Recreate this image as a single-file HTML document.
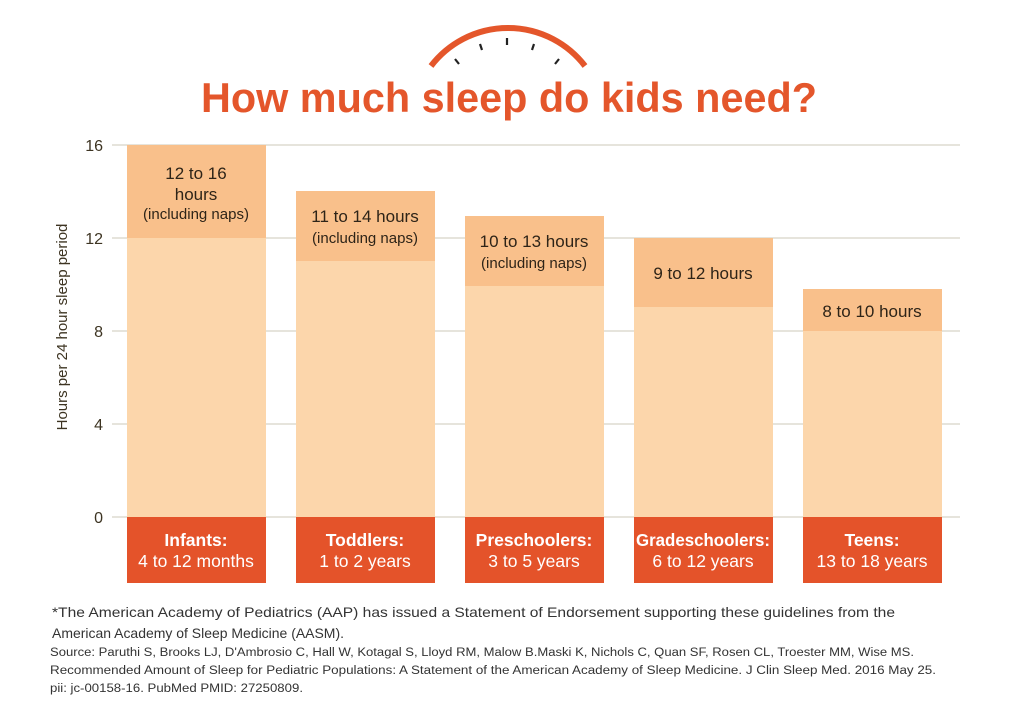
<!DOCTYPE html>
<html><head><meta charset="utf-8"><style>
html,body{margin:0;padding:0;background:#fff;}
svg{display:block;font-family:"Liberation Sans",sans-serif;}
</style></head><body>
<svg width="1010" height="720" viewBox="0 0 1010 720" xmlns="http://www.w3.org/2000/svg">
<rect width="1010" height="720" fill="#fff"/>
<!-- arc -->
<path d="M431,66 A97,97 0 0 1 585,66" fill="none" stroke="#e4562b" stroke-width="6"/>
<g stroke="#222" stroke-width="2.2">
<line x1="455" y1="59" x2="459" y2="64"/>
<line x1="480" y1="44" x2="482" y2="50"/>
<line x1="507" y1="38" x2="507" y2="45"/>
<line x1="534" y1="44" x2="532" y2="50"/>
<line x1="559" y1="59" x2="555" y2="64"/>
</g>
<text x="509" y="112" text-anchor="middle" font-size="42" font-weight="bold" fill="#e4562b" textLength="616" lengthAdjust="spacingAndGlyphs">How much sleep do kids need?</text>
<!-- grid -->
<g stroke="#d8d4c8" stroke-width="1.2">
<line x1="112" y1="145" x2="960" y2="145"/><line x1="112" y1="238" x2="960" y2="238"/>
<line x1="112" y1="331" x2="960" y2="331"/><line x1="112" y1="424" x2="960" y2="424"/>
<line x1="112" y1="517" x2="960" y2="517"/>
</g>
<g font-size="16" fill="#3d3422" text-anchor="end">
<text x="103" y="151">16</text><text x="103" y="244">12</text><text x="103" y="337">8</text>
<text x="103" y="430">4</text><text x="103" y="523">0</text>
</g>
<text transform="translate(67,327) rotate(-90)" text-anchor="middle" font-size="15" fill="#3d3422">Hours per 24 hour sleep period</text>
<!-- bars -->
<g>
<rect x="127" y="145" width="139" height="93" fill="#f9c08b"/><rect x="127" y="238" width="139" height="279" fill="#fcd6ab"/>
<rect x="296" y="191" width="139" height="70" fill="#f9c08b"/><rect x="296" y="261" width="139" height="256" fill="#fcd6ab"/>
<rect x="465" y="216" width="139" height="70" fill="#f9c08b"/><rect x="465" y="286" width="139" height="231" fill="#fcd6ab"/>
<rect x="634" y="238" width="139" height="69" fill="#f9c08b"/><rect x="634" y="307" width="139" height="210" fill="#fcd6ab"/>
<rect x="803" y="289" width="139" height="42" fill="#f9c08b"/><rect x="803" y="331" width="139" height="186" fill="#fcd6ab"/>
</g>
<g fill="#2e2418" text-anchor="middle">
<text x="196" y="179" font-size="17">12 to 16</text>
<text x="196" y="200" font-size="17">hours</text>
<text x="196" y="219" font-size="15">(including naps)</text>
<text x="365" y="222" font-size="17">11 to 14 hours</text>
<text x="365" y="243" font-size="15">(including naps)</text>
<text x="534" y="247" font-size="17">10 to 13 hours</text>
<text x="534" y="268" font-size="15">(including naps)</text>
<text x="703" y="279" font-size="17">9 to 12 hours</text>
<text x="872" y="317" font-size="17">8 to 10 hours</text>
</g>
<!-- label boxes -->
<g fill="#e4532a">
<rect x="127" y="517" width="139" height="66"/><rect x="296" y="517" width="139" height="66"/>
<rect x="465" y="517" width="139" height="66"/><rect x="634" y="517" width="139" height="66"/>
<rect x="803" y="517" width="139" height="66"/>
</g>
<g fill="#fff" text-anchor="middle" font-size="17.5">
<text x="196" y="546" font-weight="bold">Infants:</text><text x="196" y="567">4 to 12 months</text>
<text x="365" y="546" font-weight="bold">Toddlers:</text><text x="365" y="567">1 to 2 years</text>
<text x="534" y="546" font-weight="bold">Preschoolers:</text><text x="534" y="567">3 to 5 years</text>
<text x="703" y="546" font-weight="bold" textLength="134" lengthAdjust="spacingAndGlyphs">Gradeschoolers:</text><text x="703" y="567">6 to 12 years</text>
<text x="872" y="546" font-weight="bold">Teens:</text><text x="872" y="567">13 to 18 years</text>
</g>
<!-- footnotes -->
<g fill="#333">
<text x="52" y="617" font-size="14" textLength="843" lengthAdjust="spacingAndGlyphs">*The American Academy of Pediatrics (AAP) has issued a Statement of Endorsement supporting these guidelines from the</text>
<text x="52" y="638" font-size="14" textLength="292" lengthAdjust="spacingAndGlyphs">American Academy of Sleep Medicine (AASM).</text>
<text x="50" y="656" font-size="11.5" textLength="864" lengthAdjust="spacingAndGlyphs">Source: Paruthi S, Brooks LJ, D'Ambrosio C, Hall W, Kotagal S, Lloyd RM, Malow B.Maski K, Nichols C, Quan SF, Rosen CL, Troester MM, Wise MS.</text>
<text x="50" y="674" font-size="11.5" textLength="886" lengthAdjust="spacingAndGlyphs">Recommended Amount of Sleep for Pediatric Populations: A Statement of the American Academy of Sleep Medicine.  J Clin Sleep Med. 2016 May 25.</text>
<text x="50" y="692" font-size="11.5" textLength="253" lengthAdjust="spacingAndGlyphs">pii: jc-00158-16. PubMed PMID: 27250809.</text>
</g>
</svg>
</body></html>
